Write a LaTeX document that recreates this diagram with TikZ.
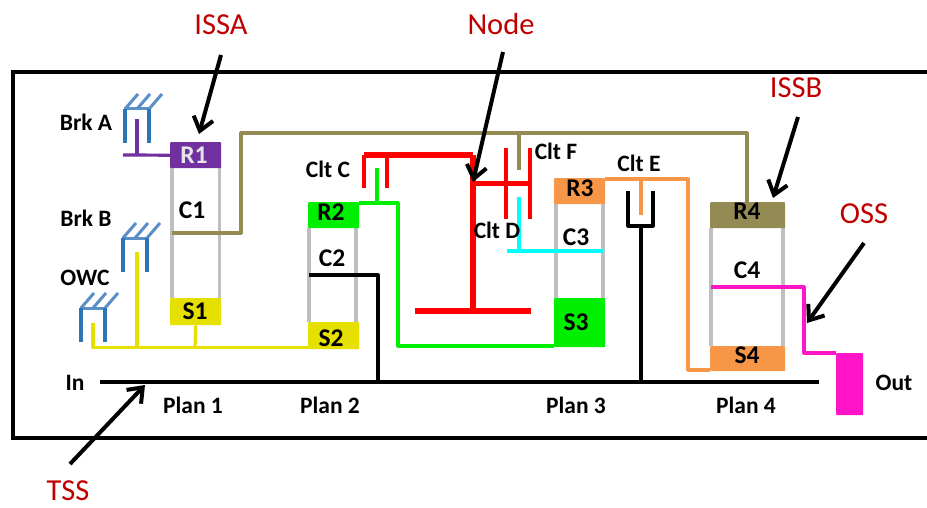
\documentclass[tikz,border=0pt]{standalone}
\usepackage{fontspec}
\setmainfont{Carlito}
\usetikzlibrary{arrows.meta}
\definecolor{gbar}{HTML}{BFBFBF}
\definecolor{bblue}{HTML}{2E75B6}
\definecolor{hblue}{HTML}{5B8FC7}
\definecolor{olive}{HTML}{948A54}
\definecolor{purp}{HTML}{7030A0}
\definecolor{yel}{HTML}{E6E000}
\definecolor{grn}{HTML}{00EE00}
\definecolor{org}{HTML}{F79646}
\definecolor{mag}{HTML}{FF14C8}
\definecolor{cyn}{HTML}{00FFFF}
\definecolor{redl}{HTML}{C00000}
\tikzset{
  x=1pt,y=-1pt,
  lab/.style={font=\fontsize{25.5}{25.5}\selectfont\bfseries,inner sep=0pt,text=black},
  small/.style={font=\fontsize{23.5}{23.5}\selectfont\bfseries,inner sep=0pt,text=black},
  callout/.style={font=\fontsize{30.5}{30.5}\selectfont,inner sep=0pt,text=redl},
  block/.style={draw=none,inner sep=0pt,rounded corners=0.8pt,anchor=north west},
  wire/.style={line width=#1,line join=round},
  wire/.default=3.2pt,
  carrier/.style={draw=gbar,line width=3.5pt},
  leg/.style={draw=bblue,line width=3.5pt},
  hatch/.style={draw=hblue,line width=3pt},
  pointer/.style={draw=black,line width=4pt,-{Straight Barb[length=13pt,width=20pt,line width=4pt]}},
}
\newcommand{\gbrake}[2]{% x of left leg, y of top
  \draw[hatch] (#1-1,#2) -- (#1+25,#2);
  \draw[hatch] (#1,#2) -- (#1+13,#2-15);
  \draw[hatch] (#1+12,#2) -- (#1+25,#2-15);
  \draw[hatch] (#1+24,#2) -- (#1+37,#2-15);
  \draw[leg] (#1,#2) -- (#1,#2+34);
  \draw[leg] (#1+24,#2) -- (#1+24,#2+34);
}
\begin{document}
\begin{tikzpicture}
\useasboundingbox (0,0) rectangle (927,508);
% frame
\coordinate (fTR) at (927,72);
\coordinate (fTL) at (13,72);
\coordinate (fBL) at (13,438);
\coordinate (fBR) at (927,438);
\draw[black,line width=4pt,line join=miter] (fTR) -- (fTL) -- (fBL) -- (fBR);

% carriers
\coordinate (c1a) at (172,168); \coordinate (c1b) at (172,298);
\coordinate (c1c) at (219.5,168); \coordinate (c1d) at (219.5,298);
\coordinate (c2a) at (309,228); \coordinate (c2b) at (309,322);
\coordinate (c2c) at (356,228); \coordinate (c2d) at (356,322);
\coordinate (c3a) at (556,204); \coordinate (c3b) at (556,298);
\coordinate (c3c) at (603,204); \coordinate (c3d) at (603,298);
\coordinate (c4a) at (711,228); \coordinate (c4b) at (711,346);
\coordinate (c4c) at (783,228); \coordinate (c4d) at (783,346);
\foreach \p/\q in {c1a/c1b,c1c/c1d,c2a/c2b,c2c/c2d,c3a/c3b,c3c/c3d,c4a/c4b,c4c/c4d}
  \draw[carrier] (\p) -- (\q);

% brakes
\gbrake{125}{109}
\gbrake{123}{238}
\gbrake{81}{308}

% input shaft
\coordinate (inL) at (100,382);
\coordinate (inR) at (819,382);
\draw[black,wire=3.2pt] (inL) -- (inR);

% blocks
\node[block,fill=purp,minimum width=51pt,minimum height=26pt] (R1) at (170,142) {};
\node[block,fill=yel,minimum width=51pt,minimum height=27pt] (S1) at (170,298) {};
\node[block,fill=grn,minimum width=51pt,minimum height=26pt] (R2) at (308,202) {};
\node[block,fill=org,minimum width=51pt,minimum height=26pt] (R3) at (554,178) {};
\node[block,fill=grn,minimum width=51pt,minimum height=49pt] (S3) at (554,298) {};
\node[block,fill=olive,minimum width=75pt,minimum height=26pt] (R4) at (710,202) {};
\node[block,fill=org,minimum width=75pt,minimum height=25pt] (S4) at (710,346) {};
\node[block,fill=mag,minimum width=27pt,minimum height=62pt] (OUTB) at (836,353) {};

% purple
\coordinate (pA) at (123,155); \coordinate (pB) at (137,119); \coordinate (pC) at (137,155);
\draw[purp,wire] (pA) -- (R1.west);
\draw[purp,wire] (pB) -- (pC);

% yellow
\coordinate (y1) at (93,323); \coordinate (y2) at (93,347.5); \coordinate (y3) at (333,347.5);
\coordinate (y4) at (137,252); \coordinate (y5) at (137,347.5); \coordinate (y6) at (195,347.5);
\draw[yel,wire] (y1) -- (y2) -- (y3);
\draw[yel,wire] (y4) -- (y5);
\draw[yel,wire] (S1.south) -- (y6);
\node[block,fill=yel,minimum width=51pt,minimum height=27pt] (S2) at (308,322) {};

% olive
\coordinate (o1) at (172,233); \coordinate (o2) at (241,233); \coordinate (o3) at (241,133);
\coordinate (o4) at (747,133); \coordinate (o5) at (747,202);
\coordinate (o6) at (519,133); \coordinate (o7) at (519,170);
\draw[olive,wire] (o1) -- (o2) -- (o3) -- (o4) -- (o5);
\draw[olive,wire] (o6) -- (o7);

% black C2
\coordinate (k1) at (309,275); \coordinate (k2) at (378,275); \coordinate (k3) at (378,382);
\draw[black,wire] (k1) -- (k2) -- (k3);

% green
\coordinate (g1) at (359,203); \coordinate (g2) at (398,203); \coordinate (g3) at (398,346);
\coordinate (g4) at (554,346); \coordinate (g5) at (377,168); \coordinate (g6) at (377,203);
\draw[grn,wire] (g1) -- (g2) -- (g3) -- (g4);
\draw[grn,wire] (g5) -- (g6);

% red
\coordinate (r1) at (364,188); \coordinate (r2) at (364,155); \coordinate (r3) at (473,155);
\coordinate (r4) at (473,311); \coordinate (r5) at (415,311); \coordinate (r6) at (531,311);
\coordinate (r7) at (473,183.5); \coordinate (r8) at (530,183.5);
\coordinate (r9) at (387,155); \coordinate (r10) at (387,188);
\coordinate (r11) at (506,148); \coordinate (r12) at (506,219);
\coordinate (r13) at (530,148); \coordinate (r14) at (530,219);
\draw[red,wire=3.5pt] (r1) -- (r2);
\draw[red,wire=5.5pt] (r2) -- (r3);
\draw[red,wire=6pt] (r3) -- (r4);
\draw[red,wire=5.5pt] (r5) -- (r6);
\draw[red,wire=5.5pt] (r7) -- (r8);
\draw[red,wire=3.5pt] (r9) -- (r10);
\draw[red,wire=3.5pt] (r11) -- (r12);
\draw[red,wire=3.5pt] (r13) -- (r14);

% cyan
\coordinate (cy1) at (519,197); \coordinate (cy2) at (519,251);
\coordinate (cy3) at (507,251); \coordinate (cy4) at (603,251);
\draw[cyn,wire] (cy1) -- (cy2);
\draw[cyn,wire] (cy3) -- (cy4);

% orange
\coordinate (a1) at (605,179); \coordinate (a2) at (688,179); \coordinate (a3) at (688,370);
\coordinate (a4) at (710,370); \coordinate (a5) at (641,179); \coordinate (a6) at (641,215);
\draw[org,wire] (a1) -- (a2) -- (a3) -- (a4);
\draw[org,wire] (a5) -- (a6);

% clutch E
\coordinate (e1) at (628,191); \coordinate (e2) at (628,226); \coordinate (e3) at (653,226);
\coordinate (e4) at (653,191); \coordinate (e5) at (641,226); \coordinate (e6) at (641,382);
\draw[black,wire] (e1) -- (e2) -- (e3) -- (e4);
\draw[black,wire] (e5) -- (e6);

% magenta
\coordinate (m1) at (711,287); \coordinate (m2) at (804,287); \coordinate (m3) at (804,353);
\coordinate (m4) at (836,353);
\draw[mag,wire] (m1) -- (m2) -- (m3) -- (m4);

% labels
\node[lab,text=white!90!black] (tR1) at (194,155) {R1};
\node[lab] (tS1) at (195,311) {S1};
\node[lab] (tC1) at (192,210) {C1};
\node[lab] (tR2) at (331,212) {R2};
\node[lab] (tC2) at (332,258) {C2};
\node[lab] (tS2) at (331,338) {S2};
\node[lab] (tR3) at (580,188) {R3};
\node[lab] (tC3) at (576,237) {C3};
\node[lab] (tS3) at (576,322) {S3};
\node[lab] (tR4) at (747,211) {R4};
\node[lab] (tC4) at (747,270) {C4};
\node[lab] (tS4) at (747,355) {S4};
\node[small] (tBA) at (86,122) {Brk A};
\node[small] (tBB) at (86,218) {Brk B};
\node[small] (tOWC) at (85,278) {OWC};
\node[small] (tIn) at (75,383) {In};
\node[small] (tOut) at (894,383) {Out};
\node[small] (tP1) at (193,405) {Plan 1};
\node[small] (tP2) at (330,405) {Plan 2};
\node[small] (tP3) at (576,405) {Plan 3};
\node[small] (tP4) at (746,405) {Plan 4};
\node[small] (tCC) at (328,169) {Clt C};
\node[small] (tCF) at (556,151) {Clt F};
\node[small] (tCD) at (497,230) {Clt D};
\node[small] (tCE) at (639,163) {Clt E};

% callouts
\node[callout] (ISSA) at (221,25) {ISSA};
\node[callout] (Node) at (501,24) {Node};
\node[callout] (ISSB) at (796,88) {ISSB};
\node[callout] (OSS) at (864,214) {OSS};
\node[callout] (TSS) at (68,491) {TSS};
\coordinate (pISSAa) at (221,55); \coordinate (pISSAb) at (199,134);
\coordinate (pNodea) at (503,52); \coordinate (pNodeb) at (473,182);
\coordinate (pISSBa) at (798,117); \coordinate (pISSBb) at (773,198);
\coordinate (pOSSa) at (864,243); \coordinate (pOSSb) at (807,323);
\coordinate (pTSSa) at (70,464); \coordinate (pTSSb) at (145,385);
\foreach \p/\q in {pISSAa/pISSAb,pNodea/pNodeb,pISSBa/pISSBb,pOSSa/pOSSb,pTSSa/pTSSb}
  \draw[pointer] (\p) -- (\q);
\end{tikzpicture}
\end{document}
